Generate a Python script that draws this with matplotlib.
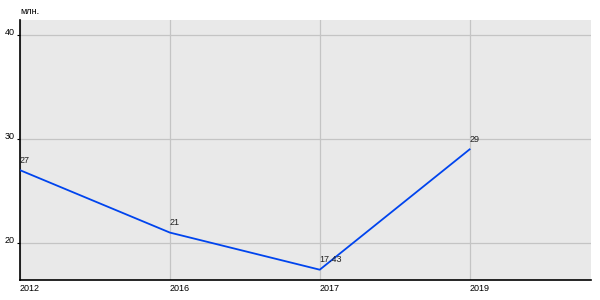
import matplotlib
matplotlib.use("Agg")
import matplotlib.pyplot as plt

years = ['2012', '2016', '2017', '2019']
values = [27, 21, 17.43, 29]
value_labels = ['27', '21', '17.43', '29']
y_ticks = [20, 30, 40]
unit = 'млн.'

plt.rcParams['font.family'] = ['Liberation Sans', 'DejaVu Sans']

fig = plt.figure(figsize=(6, 3), dpi=100)
ax = fig.add_axes([20 / 600, 20 / 300, 571 / 600, 260 / 300])
ax.set_facecolor('#e9e9e9')

x = list(range(len(years)))
ax.plot(x, values, color='#0044ee', lw=1.3, zorder=3)
for xi, v, lab in zip(x, values, value_labels):
    ax.annotate(lab, (xi, v), xytext=(0, 4), textcoords='offset points',
                ha='left', va='bottom', fontsize=6.5, color='#222222')

ax.set_xlim(0, 3.81)
ax.set_ylim(16.44, 41.44)
ax.set_xticks(x)
ax.set_xticklabels(years, ha='left', fontsize=6.5)
ax.set_yticks(y_ticks)
ax.set_yticklabels([str(t) for t in y_ticks], fontsize=6.5, va='center')
ax.grid(True, color='#c4c4c4', lw=0.9)
ax.set_axisbelow(True)

for s in ['top', 'right']:
    ax.spines[s].set_visible(False)
ax.spines['left'].set_color('black')
ax.spines['bottom'].set_color('black')
ax.spines['left'].set_linewidth(1.2)
ax.spines['bottom'].set_linewidth(1.2)
ax.tick_params(axis='x', length=0, pad=3)
ax.tick_params(axis='y', length=2.2, pad=1.5, width=0.8)
for lbl in ax.get_yticklabels():
    lbl.set_y(lbl.get_position()[1])
    lbl.set_transform(lbl.get_transform() + matplotlib.transforms.ScaledTranslation(0, 2 / 72, fig.dpi_scale_trans))

fig.text(20 / 600, 1 - 12 / 300, unit, fontsize=6.5, ha='left', va='center')

fig.savefig('out.png', dpi=100)
